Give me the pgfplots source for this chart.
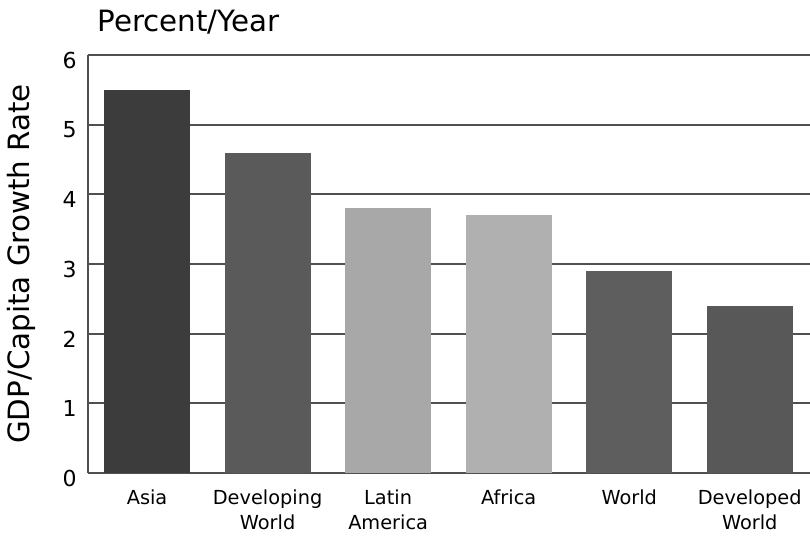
\documentclass[border=0pt]{standalone}
\usepackage{pgfplots}
\pgfplotsset{compat=1.18}
\usepackage{fontspec}
\setmainfont{DejaVu Sans}
\definecolor{c1}{HTML}{3C3C3C}
\definecolor{c2}{HTML}{5A5A5A}
\definecolor{c3}{HTML}{A8A8A8}
\definecolor{c4}{HTML}{B0B0B0}
\definecolor{c5}{HTML}{5E5E5E}
\definecolor{c6}{HTML}{585858}
\definecolor{gridc}{HTML}{505050}
\begin{document}
\begin{tikzpicture}
\begin{axis}[
  name=ax,
  scale only axis,
  clip=false,
  width=541.5pt, height=313.5pt,
  xmin=-0.49, xmax=5.5,
  ymin=0, ymax=6,
  ytick={0,1,2,3,4,5,6},
  xtick={0,1,2,3,4,5},
  xticklabels={Asia,{Developing\\World},{Latin\\America},Africa,World,{Developed\\World}},
  xticklabel style={align=center, font=\fontsize{14.5}{19}\selectfont, yshift=-9pt},
  yticklabel style={font=\fontsize{16.5}{18}\selectfont, yshift=-4pt, xshift=-5pt},
  /pgf/number format/assume math mode=true,
  major tick length=0pt,
  axis x line=bottom, axis y line=left,
  x axis line style={-, line width=2.2pt, gridc},
  y axis line style={-, line width=1.5pt, gridc},
  ymajorgrids,
  grid style={line width=1.6pt, gridc},
  ylabel={GDP/Capita Growth Rate},
  ylabel style={font=\fontsize{22}{24}\selectfont, at={(rel axis cs:-0.092,0.5)}, anchor=center, rotate=0},
  ybar, bar width=64.5pt,
]
\addplot[fill=c1, draw=none, bar shift=0pt] coordinates {(0,5.5)};
\addplot[fill=c2, draw=none, bar shift=0pt] coordinates {(1,4.6)};
\addplot[fill=c3, draw=none, bar shift=0pt] coordinates {(2,3.8)};
\addplot[fill=c4, draw=none, bar shift=0pt] coordinates {(3,3.7)};
\addplot[fill=c5, draw=none, bar shift=0pt] coordinates {(4,2.9)};
\addplot[fill=c6, draw=none, bar shift=0pt] coordinates {(5,2.4)};
\node[anchor=base west, font=\fontsize{22}{24}\selectfont] at (rel axis cs:0,1) [xshift=3.5pt, yshift=17.25pt] {Percent/Year};
\end{axis}
\pgfresetboundingbox
\useasboundingbox ([shift={(-66pt,-48.75pt)}]ax.south west) rectangle ([shift={(0pt,41.25pt)}]ax.north east);
\end{tikzpicture}
\end{document}
